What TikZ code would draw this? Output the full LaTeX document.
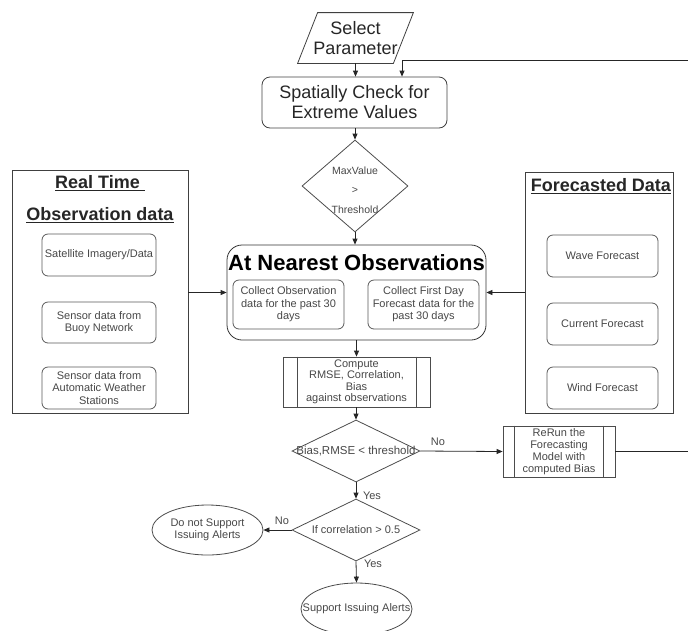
\documentclass[tikz,border=0pt]{standalone}
\usepackage{fontspec}
\setmainfont{Liberation Sans}
\usetikzlibrary{shapes.geometric,arrows.meta,calc}
\begin{document}
\begin{tikzpicture}[x=1pt,y=-1pt,
  line width=0.8pt,
  arr/.style={draw=black!85,-{Triangle[length=6pt,width=5pt]}},
  big/.style={font=\fontsize{18}{20}\selectfont, text=black!85, align=center},
  small/.style={font=\fontsize{11}{12.5}\selectfont, text=black!72, align=center},
  ibox/.style={small, draw=black!65, rounded corners=6pt, inner sep=0pt, minimum width=111pt},
  obox/.style={draw=black!75, inner sep=0pt},
  dia/.style={diamond, draw=black!70, inner sep=0pt},
  ell/.style={ellipse, draw=black!70, inner sep=0pt, minimum width=111pt},
  proc/.style={draw=black!70, inner sep=0pt},
  ttl/.style={font=\fontsize{18}{20}\selectfont\bfseries, text=black!85},
  lbl/.style={small, inner sep=0pt}
]
\useasboundingbox (0,0) rectangle (688,630);

% Select Parameter
\node[big, minimum width=95pt, minimum height=50pt, inner sep=0pt] (sel) at (355.5,38) {Select\\Parameter};
\draw[draw=black!75] ([xshift=10pt]sel.north west) -- ([xshift=10pt]sel.north east)
  -- ([xshift=-10pt]sel.south east) -- ([xshift=-10pt]sel.south west) -- cycle;

% Spatially check
\node[big, draw=black!75, rounded corners=8pt, minimum width=185pt, minimum height=51pt, inner sep=0pt] (spat) at (354.5,102.5) {Spatially Check for\\Extreme Values};

% Diamond 1
\node[dia, minimum width=106pt, minimum height=92pt] (d1) at (355,186) {};
\node[font=\fontsize{10.5}{19.5}\selectfont, text=black!72, align=center, inner sep=0pt] (d1t) at (355,190) {MaxValue\\>\\Threshold};

% At nearest observations
\node[draw=black!80, rounded corners=15pt, minimum width=259pt, minimum height=95pt, inner sep=0pt] (atn) at (356.5,292.5) {};
\node[font=\fontsize{22}{24}\selectfont\bfseries, inner sep=0pt] (atnt) at (356.5,263) {At Nearest Observations};
\node[ibox, minimum height=49pt] (obs) at (288.5,304.5) {Collect Observation\\data for the past 30\\days};
\node[ibox, minimum height=49pt] (fcs) at (423.5,304.5) {Collect First Day\\Forecast data for the\\past 30 days};

% Compute
\node[proc, small, minimum width=147pt, minimum height=50pt, font=\fontsize{11}{11.5}\selectfont] (cmp) at (356.5,382) {Compute\\RMSE, Correlation,\\Bias\\against observations};
\draw[draw=black!70] ([xshift=15pt]cmp.north west) -- ([xshift=15pt]cmp.south west);
\draw[draw=black!70] ([xshift=-14pt]cmp.north east) -- ([xshift=-14pt]cmp.south east);

% Diamond 2
\node[dia, minimum width=128pt, minimum height=62pt] (d2) at (356,451) {};
\node[small, font=\fontsize{11.5}{13}\selectfont, inner sep=0pt] (d2t) at (356,451) {Bias,RMSE < threshold};

% ReRun
\node[proc, small, minimum width=112pt, minimum height=51pt, font=\fontsize{11}{12}\selectfont] (rerun) at (559,451.5) {ReRun the\\Forecasting\\Model with\\computed Bias};
\draw[draw=black!70] ([xshift=12pt]rerun.north west) -- ([xshift=12pt]rerun.south west);
\draw[draw=black!70] ([xshift=-12pt]rerun.north east) -- ([xshift=-12pt]rerun.south east);

% Diamond 3
\node[dia, minimum width=128pt, minimum height=62pt] (d3) at (356,530) {};
\node[small, inner sep=0pt] (d3t) at (356,530) {If correlation > 0.5};

% Ellipses
\node[ell, minimum height=50pt] (nos) at (207.5,530) {};
\node[small, inner sep=0pt] (nost) at (207.5,530) {Do not Support\\Issuing Alerts};
\node[ell, minimum height=52pt] (sup) at (356.5,609) {};
\node[small, inner sep=0pt] (supt) at (356.5,609) {Support Issuing Alerts};

% Left box
\node[obox, minimum width=176pt, minimum height=243pt] (lbox) at (100,291.5) {};
\node[ttl, inner sep=0pt] (lt1) at (100,183) {\underline{Real Time\ }};
\node[ttl, inner sep=0pt] (lt2) at (100,215) {\underline{Observation data}};
\node[ibox, minimum width=114pt, minimum height=42pt] (sat) at (99,255) {Satellite Imagery/Data};
\node[ibox, minimum width=114pt, minimum height=41pt] (buoy) at (99,322.5) {Sensor data from\\Buoy Network};
\node[ibox, minimum width=114pt, minimum height=42pt] (aws) at (99,388) {Sensor data from\\Automatic Weather\\Stations};

% Right box
\node[obox, minimum width=148pt, minimum height=241pt] (rbox) at (599,292.5) {};
\node[ttl, inner sep=0pt] (rt) at (601,186) {\underline{Forecasted Data}};
\node[ibox, minimum height=42pt] (wave) at (602.5,256) {Wave Forecast};
\node[ibox, minimum height=42pt] (cur) at (602.5,324) {Current Forecast};
\node[ibox, minimum height=42pt] (wind) at (602.5,388) {Wind Forecast};

% Connectors
\coordinate (fbt) at (688,60);
\coordinate (fbr) at (688,451.5);
\draw[arr] (sel.south) -- (sel.south |- spat.north);
\draw[arr] (fbt) -| ([xshift=47.5pt]spat.north);
\draw[arr] (d1.north |- spat.south) -- (d1.north);
\draw[arr] (d1.south) -- (d1.south |- atn.north);
\draw[arr] (cmp.north |- atn.south) -- (cmp.north);
\draw[arr] (d2.north |- cmp.south) -- (d2.north);
\draw[arr] (d2.east) -- (rerun.west);
\draw[draw=black!85] (rerun.east) -- (fbr);
\draw[arr] (d2.south) -- (d3.north);
\draw[arr] (d3.west) -- (nos.east);
\draw[arr] (d3.south) -- (sup.north);
\draw[arr] (lbox.east |- atn.west) -- (atn.west);
\draw[arr] (rbox.west |- atn.east) -- (atn.east);

% Labels
\node[lbl] (lno1) at (438,442) {No};
\node[lbl] (lyes1) at (372,496) {Yes};
\node[lbl] (lno2) at (282,521) {No};
\node[lbl] (lyes2) at (373,564) {Yes};
\end{tikzpicture}
\end{document}
